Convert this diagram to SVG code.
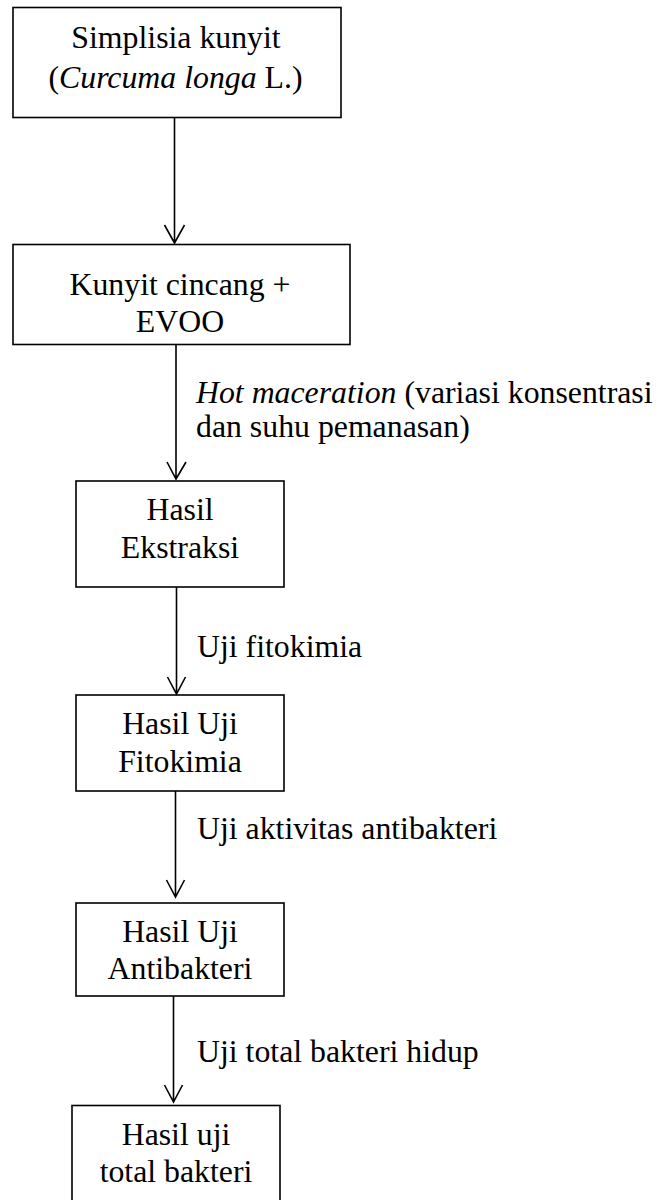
<svg xmlns="http://www.w3.org/2000/svg" width="663" height="1200" viewBox="0 0 663 1200">
<style>
.box{fill:#fff;stroke:#000;stroke-width:1.6}
.t{font-family:"Liberation Serif","Times New Roman",serif;font-size:31.8px;fill:#000}
.c{text-anchor:middle}
.ln{fill:none;stroke:#000;stroke-width:1.6}
</style>
<rect width="663" height="1200" fill="#fff"/>
<g id="n1"><rect class="box" x="13" y="7.5" width="328" height="110"/>
<text class="t c" x="176" y="48">Simplisia kunyit</text>
<text class="t c" x="175.5" y="88">(<tspan font-style="italic">Curcuma longa</tspan> L.)</text></g>
<g id="n2"><rect class="box" x="13" y="244.5" width="337" height="100"/>
<text class="t c" x="180" y="295">Kunyit cincang +</text>
<text class="t c" x="180" y="332">EVOO</text></g>
<g id="n3"><rect class="box" x="76" y="481" width="208" height="106"/>
<text class="t c" x="180" y="520">Hasil</text>
<text class="t c" x="180" y="558">Ekstraksi</text></g>
<g id="n4"><rect class="box" x="76" y="695" width="208" height="96"/>
<text class="t c" x="180" y="734">Hasil Uji</text>
<text class="t c" x="180" y="772">Fitokimia</text></g>
<g id="n5"><rect class="box" x="76" y="903" width="208" height="93"/>
<text class="t c" x="180" y="942">Hasil Uji</text>
<text class="t c" x="180" y="979">Antibakteri</text></g>
<g id="n6"><rect class="box" x="72" y="1105.5" width="208" height="110"/>
<text class="t c" x="176" y="1145">Hasil uji</text>
<text class="t c" x="176" y="1182">total bakteri</text></g>
<g id="connectors">
<path class="ln" d="M174.5 117.5V243M164.5 225L174.5 243L184.5 225"/>
<path class="ln" d="M176 344.5V479M167 462L176 479L186 462"/>
<path class="ln" d="M176.5 587V694M167.5 677L176.5 694L185.5 677"/>
<path class="ln" d="M175.5 791V897M166.5 880L175.5 897L184.5 880"/>
<path class="ln" d="M173.5 996V1102M164.5 1085L173.5 1102L182.5 1085"/>
<text class="t" x="196" y="403"><tspan font-style="italic">Hot maceration</tspan> (variasi konsentrasi</text>
<text class="t" x="196" y="437">dan suhu pemanasan)</text>
<text class="t" x="197" y="657">Uji fitokimia</text>
<text class="t" x="197" y="839">Uji aktivitas antibakteri</text>
<text class="t" x="197" y="1062">Uji total bakteri hidup</text>
</g>
</svg>
